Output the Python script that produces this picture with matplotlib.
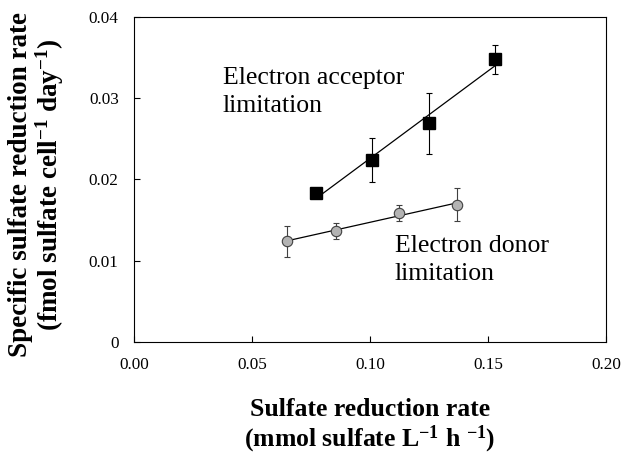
import numpy as np
import matplotlib
matplotlib.use("Agg")
import matplotlib.pyplot as plt

plt.rcParams["font.family"] = ["Liberation Serif", "DejaVu Serif"]
plt.rcParams["mathtext.default"] = "regular"

# electron acceptor limitation (squares)
acc_x = [0.077, 0.101, 0.125, 0.153]
acc_y = [0.0183, 0.0224, 0.0269, 0.0348]
acc_err = [0.0, 0.0027, 0.0037, 0.0018]

# electron donor limitation (circles)
don_x = [0.065, 0.0855, 0.1125, 0.1367]
don_y = [0.0124, 0.0137, 0.0159, 0.0169]
don_err = [0.0019, 0.0010, 0.0010, 0.0020]

x_ticks = [0.00, 0.05, 0.10, 0.15, 0.20]
x_ticklabels = ["0.00", "0.05", "0.10", "0.15", "0.20"]
y_ticks = [0, 0.01, 0.02, 0.03, 0.04]
y_ticklabels = ["0", "0.01", "0.02", "0.03", "0.04"]

fig = plt.figure(figsize=(6.22, 4.55), dpi=100)
ax = fig.add_axes([0.2154, 0.2484, 0.7588, 0.7142])

# regression lines through each series
for xs, ys in [(acc_x, acc_y), (don_x, don_y)]:
    slope, intercept = np.polyfit(xs, ys, 1)
    xl = np.array([xs[0], xs[-1]])
    ax.plot(xl, slope * xl + intercept, color="black", lw=0.9, zorder=2)

ax.errorbar(acc_x, acc_y, yerr=acc_err, fmt="s", color="black",
            markersize=8.5, ecolor="black", elinewidth=0.8, capsize=2,
            capthick=0.8, zorder=3)
ax.errorbar(don_x, don_y, yerr=don_err, fmt="o", markerfacecolor="#b3b3b3",
            markeredgecolor="#404040", markeredgewidth=0.8, markersize=7.5,
            ecolor="#404040", elinewidth=0.8, capsize=2, capthick=0.8,
            zorder=3)

ax.text(0.0377, 0.0283, "Electron acceptor\nlimitation", fontsize=18.5,
        va="baseline", ha="left", linespacing=1.35)
ax.text(0.1106, 0.0076, "Electron donor\nlimitation", fontsize=18.5,
        va="baseline", ha="left", linespacing=1.35)

ax.set_xlim(0, 0.20)
ax.set_ylim(0, 0.04)
ax.set_xticks(x_ticks)
ax.set_xticklabels(x_ticklabels)
ax.set_yticks(y_ticks)
ax.set_yticklabels(y_ticklabels)
ax.tick_params(direction="in", length=4, width=0.8, labelsize=12.3, pad=11)
for sp in ax.spines.values():
    sp.set_linewidth(0.8)

ax.set_xlabel("Sulfate reduction rate\n(mmol sulfate L$^{-1}$ h $^{-1}$)",
              fontsize=18.5, fontweight="bold", labelpad=18, linespacing=1.1)
ax.set_ylabel("Specific sulfate reduction rate\n(fmol sulfate cell$^{-1}$ day$^{-1}$)",
              fontsize=19.5, fontweight="bold", linespacing=1.0)
ax.yaxis.set_label_coords(-0.145, 0.485)

fig.savefig("out.png", dpi=100)
